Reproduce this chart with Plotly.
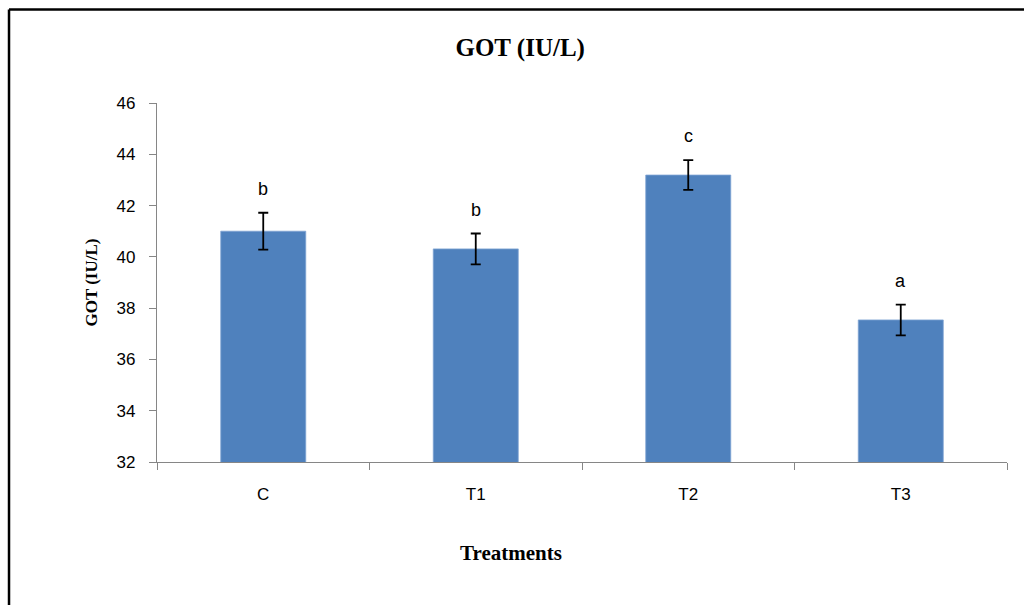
import plotly.graph_objects as go

# Serum GOT by treatment group
treatments = ["C", "T1", "T2", "T3"]
got_mean = [41.0, 40.31, 43.19, 37.54]
got_err = [0.72, 0.6, 0.58, 0.6]
sig_letters = ["b", "b", "c", "a"]
y_ticks = [32, 34, 36, 38, 40, 42, 44, 46]

BAR = "#4F81BD"
AXIS = "#868686"
SERIF = "Liberation Serif, Times New Roman, serif"
SANS = "Liberation Sans, Arial, sans-serif"

fig = go.Figure()
fig.add_trace(go.Bar(
    x=treatments,
    y=got_mean,
    width=0.4,
    marker=dict(color=BAR, line=dict(color="#7FA3D3", width=0.8)),
    error_y=dict(type="data", array=got_err, visible=True,
                 color="black", thickness=1.8, width=5),
    showlegend=False,
))

# significance letters above each error bar
for t, m, e, s in zip(treatments, got_mean, got_err, sig_letters):
    fig.add_annotation(x=t, y=m + e, text=s, showarrow=False,
                       yanchor="bottom", yshift=12,
                       font=dict(family=SANS, size=18, color="black"))

# x-axis title, centred on the page rather than the plot area
fig.add_annotation(text="<b>Treatments</b>", xref="paper", yref="paper",
                   x=0.4165, y=-0.2535, xanchor="center", yanchor="middle",
                   showarrow=False,
                   font=dict(family=SERIF, size=21, color="black"))

# chart frame (top and left edges)
fig.add_shape(type="line", xref="paper", yref="paper",
              x0=-0.1741, x1=1.05, y0=1.2606, y1=1.2606,
              line=dict(color="black", width=2.5))
fig.add_shape(type="line", xref="paper", yref="paper",
              x0=-0.1741, x1=-0.1741, y0=1.2606, y1=-0.5,
              line=dict(color="black", width=2.5))

fig.update_layout(
    width=1024, height=605,
    margin=dict(l=157, r=17, t=103, b=143),
    paper_bgcolor="white", plot_bgcolor="white",
    title=dict(text="<b>GOT (IU/L)</b>", xref="container", x=0.508,
               yref="container", y=0.922, xanchor="center", yanchor="middle",
               font=dict(family=SERIF, size=25, color="black")),
    xaxis=dict(
        type="category", tickson="boundaries", ticks="outside", ticklen=7,
        tickcolor=AXIS, tickwidth=1.2, showline=True, linecolor=AXIS, linewidth=1.3,
        showgrid=False, ticklabelstandoff=16,
        tickfont=dict(family=SANS, size=17, color="black"),
    ),
    yaxis=dict(
        range=[32, 46], tickvals=y_ticks, ticks="outside", ticklen=7,
        tickcolor=AXIS, tickwidth=1.2, showline=True, linecolor=AXIS, linewidth=1.3,
        showgrid=False, zeroline=False, ticklabelstandoff=10,
        tickfont=dict(family=SANS, size=17, color="black"),
        title=dict(text="<b>GOT (IU/L)</b>", standoff=14,
                   font=dict(family=SERIF, size=17, color="black")),
    ),
)

fig.write_html("out.html")
